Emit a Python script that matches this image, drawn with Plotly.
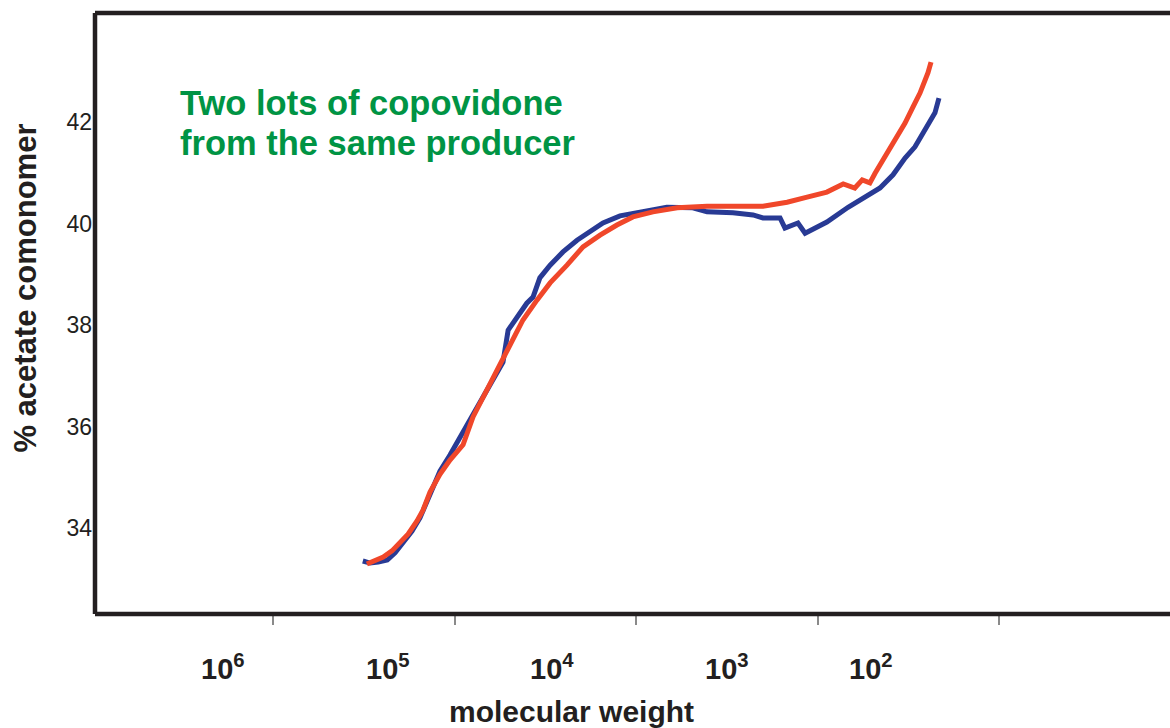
import plotly.graph_objects as go

# ---- data ----
mw_blue = [1.44e5, 1.30e5, 1.16e5, 1.02e5, 9.15e4, 8.18e4, 7.20e4, 6.44e4, 5.59e4, 4.86e4,
           4.22e4, 3.66e4, 3.05e4, 2.51e4, 2.09e4, 2.00e4, 1.86e4, 1.64e4, 1.43e4, 1.31e4,
           1.19e4, 1.03e4, 8.59e3, 7.05e3, 5.87e3, 4.89e3, 3.85e3, 2.90e3, 1.99e3, 1.38e3,
           1.13e3, 784, 591, 514, 404, 377, 314, 284, 209, 155,
           131, 114, 98.9, 82.3, 69.5, 60.4, 54.0, 48.9, 45.6, 43.1]
pct_blue = [33.35, 33.31, 33.33, 33.37, 33.51, 33.70, 33.94, 34.20, 34.65, 35.12,
            35.44, 35.79, 36.27, 36.72, 37.21, 37.27, 37.90, 38.16, 38.43, 38.55,
            38.93, 39.18, 39.44, 39.67, 39.83, 40.01, 40.15, 40.23, 40.32, 40.31,
            40.23, 40.21, 40.17, 40.11, 40.11, 39.91, 40.01, 39.81, 40.03, 40.32,
            40.46, 40.56, 40.70, 40.96, 41.29, 41.51, 41.78, 41.98, 42.18, 42.47]

mw_red = [1.36e5, 1.21e5, 1.08e5, 9.55e4, 8.53e4, 7.62e4, 6.71e4, 6.17e4, 5.59e4, 4.86e4,
          4.22e4, 3.51e4, 3.05e4, 2.51e4, 2.09e4, 1.81e4, 1.51e4, 1.24e4, 1.03e4, 8.12e3,
          6.48e3, 5.10e3, 4.02e3, 3.21e3, 2.42e3, 1.72e3, 1.13e3, 514, 366, 276,
          209, 166, 141, 127, 114, 106, 92.2, 80.1, 69.5, 62.1,
          56.3, 50.3, 48.2]
pct_red = [33.29, 33.35, 33.43, 33.55, 33.70, 33.88, 34.14, 34.35, 34.71, 35.06,
           35.34, 35.64, 36.19, 36.72, 37.21, 37.65, 38.10, 38.49, 38.83, 39.18,
           39.54, 39.77, 39.97, 40.13, 40.23, 40.31, 40.34, 40.34, 40.42, 40.52,
           40.62, 40.78, 40.70, 40.86, 40.80, 40.99, 41.31, 41.65, 41.98, 42.30,
           42.57, 42.97, 43.18]

y_ticks = [34, 36, 38, 40, 42]
x_tick_marks = [5.10e5, 3.93e4, 3.07e3, 237, 18.5]
x_label_text = ["10<sup>6</sup>", "10<sup>5</sup>", "10<sup>4</sup>", "10<sup>3</sup>", "10<sup>2</sup>"]
x_label_pos = [0.1191, 0.2726, 0.4251, 0.5879, 0.7219]   # paper fractions of label centres

FONT = "Liberation Sans, Arial, sans-serif"
INK = "#231f20"

fig = go.Figure()
fig.add_trace(go.Scatter(x=mw_blue, y=pct_blue, mode="lines",
                         line=dict(color="#283a94", width=5), showlegend=False))
fig.add_trace(go.Scatter(x=mw_red, y=pct_red, mode="lines",
                         line=dict(color="#f0472a", width=5), showlegend=False))

annotations = []
for txt, px in zip(x_label_text, x_label_pos):
    annotations.append(dict(text=f"<b>{txt}</b>", x=px, y=-0.088, xref="paper", yref="paper",
                            xanchor="center", yanchor="middle", showarrow=False,
                            font=dict(family=FONT, size=29, color=INK)))
annotations.append(dict(text="<b>molecular weight</b>", x=0.4437, y=-0.163, xref="paper", yref="paper",
                        xanchor="center", yanchor="middle", showarrow=False,
                        font=dict(family=FONT, size=30, color=INK)))
annotations.append(dict(text="<b>% acetate comonomer</b>", x=-0.0655, y=0.5424, xref="paper", yref="paper",
                        xanchor="center", yanchor="middle", textangle=-90, showarrow=False,
                        font=dict(family=FONT, size=31, color=INK)))
annotations.append(dict(text="<b>Two lots of copovidone</b>", x=0.0772, y=(614 - 103) / 601,
                        xref="paper", yref="paper", xanchor="left", yanchor="middle", showarrow=False,
                        font=dict(family=FONT, size=34.5, color="#009444")))
annotations.append(dict(text="<b>from the same producer</b>", x=0.0772, y=(614 - 143) / 601,
                        xref="paper", yref="paper", xanchor="left", yanchor="middle", showarrow=False,
                        font=dict(family=FONT, size=34.5, color="#009444")))

shapes = [
    dict(type="line", xref="paper", yref="paper", x0=0, x1=0, y0=0, y1=1,
         line=dict(color=INK, width=4.5)),
    dict(type="line", xref="paper", yref="paper", x0=0, x1=1.01, y0=1, y1=1,
         line=dict(color=INK, width=4.5)),
    dict(type="line", xref="paper", yref="paper", x0=0, x1=1.01, y0=0, y1=0,
         line=dict(color=INK, width=4.5)),
]

fig.update_layout(
    width=1170, height=728,
    margin=dict(l=95, r=0, t=13, b=114),
    paper_bgcolor="white", plot_bgcolor="white",
    annotations=annotations, shapes=shapes,
    xaxis=dict(type="log", range=[6.7964, 0.2214], showgrid=False, zeroline=False,
               showline=False, tickvals=x_tick_marks, ticktext=[""] * len(x_tick_marks),
               ticks="outside", ticklen=10, tickwidth=1.5, tickcolor="#8a8a8a"),
    yaxis=dict(range=[32.306, 44.148], showgrid=False, zeroline=False, showline=False,
               tickvals=y_ticks, ticks="", ticklabelstandoff=2,
               tickfont=dict(family=FONT, size=23, color=INK)),
)

fig.write_html("out.html", config={"displayModeBar": False},
               post_script="document.body.style.margin='0';document.body.style.overflow='hidden';")
